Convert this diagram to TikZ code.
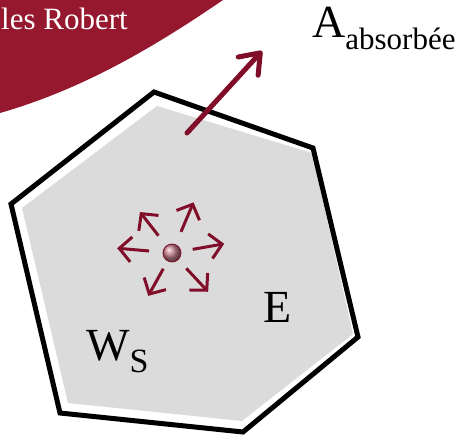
\documentclass[tikz,border=0pt]{standalone}
\usepackage{fontspec}
\setmainfont{Liberation Serif}
\usetikzlibrary{arrows.meta}

\definecolor{bandred}{RGB}{150,24,47}
\definecolor{heatred}{RGB}{128,14,40}
\definecolor{wallgray}{RGB}{219,219,219}

\tikzset{
  bigarrow/.style={heatred, line width=5pt, line cap=round,
    -{Straight Barb[length=18pt, width=27pt, round]}},
  smallarrow/.style={heatred, line width=3pt,
    -{Straight Barb[length=12pt, width=25pt]}},
  label/.style={inner sep=0pt, anchor=base west},
}

\begin{document}
\begin{tikzpicture}[x=1pt, y=-1pt]
  \useasboundingbox (0,0) rectangle (464,437);

  % Title band
  \fill[bandred] (0,0) -- (223,0) .. controls (150,50) and (80,90) .. (0,113) -- cycle;
  \node[label, white] (author) at (1,29) {\fontsize{31}{31}\selectfont les Robert};

  % Wall of the body
  \fill[wallgray] (157,106) -- (312,153) -- (353,334) -- (242,421) -- (68,403) -- (22,208) -- cycle;
  \draw[line width=5pt, line join=miter] (154,92) -- (313,148) -- (358,337) -- (243,432) -- (60,413) -- (11,204) -- cycle;

  % Source and emitted energy
  \node[circle, minimum size=18pt, inner sep=0pt, draw=heatred, line width=0.8pt,
        ball color=bandred!55!white] (src) at (172,253) {};
  \draw[smallarrow] (src) ++(47:21)  -- ++(47:32);
  \draw[smallarrow] (src) ++(119:18) -- ++(119:31);
  \draw[smallarrow] (src) ++(185:23) -- ++(185:32);
  \draw[smallarrow] (src) ++(232:22) -- ++(232:30);
  \draw[smallarrow] (src) ++(293:23) -- ++(293:32);
  \draw[smallarrow] (src) ++(350:21) -- ++(350:32);

  % Absorbed part leaving the wall
  \coordinate (inside) at (187,133);
  \coordinate (outside) at (262,51);
  \draw[bigarrow] (inside) -- (outside);

  % Labels
  \node[label] (absorbed) at (312,37) {\fontsize{46}{46}\selectfont A\raisebox{-12pt}{\fontsize{31}{31}\selectfont absorbée}};
  \node[label] (energy) at (263,322) {\fontsize{46}{46}\selectfont E};
  \node[label] (ws) at (86,360) {\fontsize{46}{46}\selectfont W\raisebox{-12pt}{\fontsize{34}{34}\selectfont S}};
\end{tikzpicture}
\end{document}
